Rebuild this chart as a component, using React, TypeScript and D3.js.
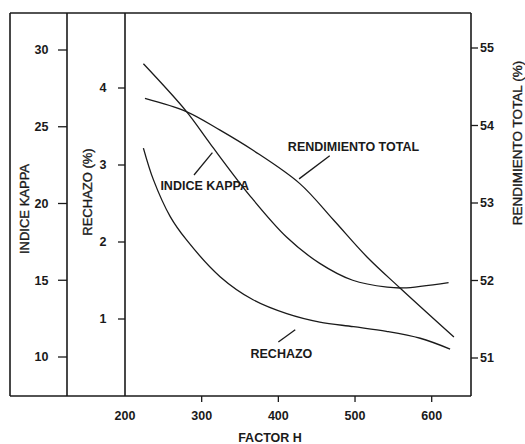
import React from "react";
import * as d3 from "d3";

// ---- data ----
const kappaH = [224, 280, 311, 363, 411, 454, 497, 542, 563, 622];
const kappaV = [29.1, 26.0, 23.9, 20.5, 17.8, 16.1, 15.0, 14.55, 14.5, 14.85];

const rendH = [226, 280, 324, 367, 428, 472, 515, 559, 629];
const rendV = [54.35, 54.18, 53.94, 53.68, 53.25, 52.78, 52.31, 51.9, 51.27];

const rechH = [224, 237, 259, 280, 324, 367, 411, 454, 498, 541, 585, 624];
const rechV = [3.22, 2.81, 2.33, 2.03, 1.55, 1.25, 1.07, 0.96, 0.9, 0.84, 0.75, 0.61];

const xTicks = [200, 300, 400, 500, 600];
const kappaTicks = [10, 15, 20, 25, 30];
const rechTicks = [1, 2, 3, 4];
const rendTicks = [51, 52, 53, 54, 55];

// annotations: label centre and arrow in (factor H, rechazo %) units
const annotations = [
  { text: "INDICE KAPPA", lx: 304, ly: 2.73, ax1: 290, ay1: 2.87, ax2: 314, ay2: 3.16 },
  { text: "RENDIMIENTO TOTAL", lx: 498, ly: 3.24, ax1: 467, ay1: 3.12, ax2: 427, ay2: 2.82 },
  { text: "RECHAZO", lx: 404, ly: 0.55, ax1: 400, ay1: 0.70, ax2: 422, ay2: 0.86 },
];

const W = 525;
const H = 444;
const frameL = 10, frameT = 13, frameB = 396, frameR = 471;
const kappaAxisX = 67, rechAxisX = 125;

const x = d3.scaleLinear().domain([200, 600]).range([125, 431.7]);
const yK = d3.scaleLinear().domain([10, 30]).range([357, 50]);
const yR = d3.scaleLinear().domain([0, 4]).range([396, 88]);
const yT = d3.scaleLinear().domain([51, 55]).range([358, 48]);

const FONT = "'Liberation Sans', Arial, Helvetica, sans-serif";
const INK = "#1a1a1a";

function makePath(hs: number[], vs: number[], ys: d3.ScaleLinear<number, number>) {
  const line = d3
    .line<number>()
    .x((_, i) => x(hs[i]))
    .y((v) => ys(v))
    .curve(d3.curveCatmullRom.alpha(0.5));
  return line(vs) || "";
}

export default function App() {
  return (
    <div style={{ position: "fixed", left: 0, top: 0 }}>
      <svg width={W} height={H} style={{ display: "block", background: "#fff" }}>
        <rect x={0} y={0} width={W} height={H} fill="#fff" />
        {/* frame */}
        <g stroke={INK} strokeWidth={1.6} fill="none">
          <line x1={frameL} y1={frameT} x2={frameR} y2={frameT} />
          <line x1={frameL} y1={frameB} x2={frameR} y2={frameB} />
          <line x1={frameL} y1={frameT} x2={frameL} y2={frameB} />
          <line x1={frameR} y1={frameT} x2={frameR} y2={frameB} />
          <line x1={kappaAxisX} y1={frameT} x2={kappaAxisX} y2={frameB} />
          <line x1={rechAxisX} y1={frameT} x2={rechAxisX} y2={frameB} />
        </g>

        {/* axis ticks and labels */}
        <g fontFamily={FONT} fontWeight="bold" fontSize={12.5} fill={INK}>
          {xTicks.map((t) => (
            <g key={t}>
              {t !== 200 && (
                <line x1={x(t)} x2={x(t)} y1={frameB} y2={frameB + 6} stroke={INK} strokeWidth={1.3} />
              )}
              <text x={x(t)} y={416} textAnchor="middle" dy="0.35em">
                {t}
              </text>
            </g>
          ))}
          {kappaTicks.map((t) => (
            <g key={"k" + t}>
              <line x1={kappaAxisX - 9} x2={kappaAxisX} y1={yK(t)} y2={yK(t)} stroke={INK} strokeWidth={1.3} />
              <text x={48.5} y={yK(t)} textAnchor="end" dy="0.35em">
                {t}
              </text>
            </g>
          ))}
          {rechTicks.map((t) => (
            <g key={"r" + t}>
              <line x1={rechAxisX - 7} x2={rechAxisX} y1={yR(t)} y2={yR(t)} stroke={INK} strokeWidth={1.3} />
              <text x={106.5} y={yR(t)} textAnchor="end" dy="0.35em">
                {t}
              </text>
            </g>
          ))}
          {rendTicks.map((t) => (
            <g key={"t" + t}>
              <line x1={frameR} x2={frameR + 7} y1={yT(t)} y2={yT(t)} stroke={INK} strokeWidth={1.3} />
              <text x={480} y={yT(t)} textAnchor="start" dy="0.35em">
                {t}
              </text>
            </g>
          ))}
        </g>

        {/* axis titles */}
        <g fontFamily={FONT} fontSize={13} fill={INK} stroke={INK} strokeWidth={0.35}>
          <text x={270} y={438} textAnchor="middle" dy="0.35em" fontWeight="bold" fontSize={12.5} stroke="none">
            FACTOR H
          </text>
          <text transform="translate(24,209) rotate(-90)" textAnchor="middle" dy="0.35em">
            INDICE KAPPA
          </text>
          <text transform="translate(87,192) rotate(-90)" textAnchor="middle" dy="0.35em">
            RECHAZO (%)
          </text>
          <text transform="translate(517.5,143) rotate(-90)" textAnchor="middle" dy="0.35em" fontSize={13.5}>
            RENDIMIENTO TOTAL (%)
          </text>
        </g>

        {/* curves */}
        <g fill="none" stroke={INK} strokeWidth={1.3}>
          <path d={makePath(kappaH, kappaV, yK)} />
          <path d={makePath(rendH, rendV, yT)} />
          <path d={makePath(rechH, rechV, yR)} />
        </g>

        {/* annotations */}
        <g fontFamily={FONT} fontWeight="bold" fontSize={12.5} fill={INK}>
          {annotations.map((a) => (
            <g key={a.text}>
              <line
                x1={x(a.ax1)}
                y1={yR(a.ay1)}
                x2={x(a.ax2)}
                y2={yR(a.ay2)}
                stroke={INK}
                strokeWidth={1.3}
              />
              <text x={x(a.lx)} y={yR(a.ly)} textAnchor="middle" dy="0.35em">
                {a.text}
              </text>
            </g>
          ))}
        </g>
      </svg>
    </div>
  );
}
